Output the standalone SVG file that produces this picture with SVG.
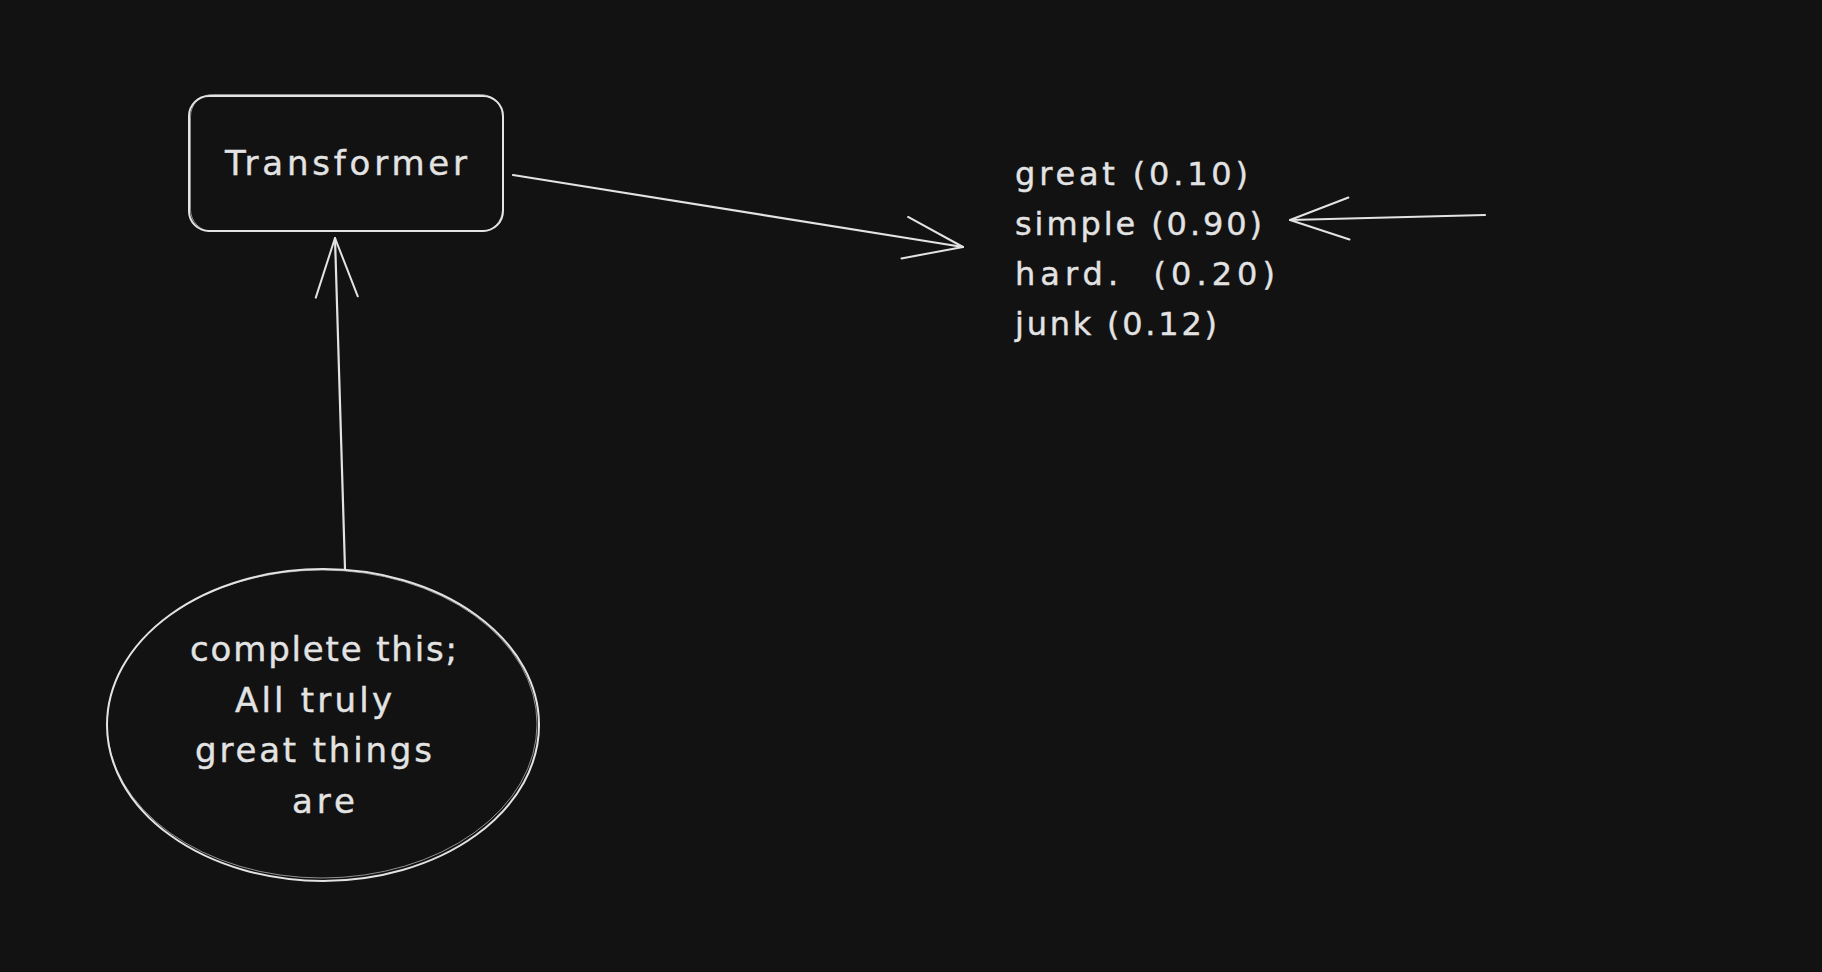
<svg xmlns="http://www.w3.org/2000/svg" width="1822" height="972" viewBox="0 0 1822 972">
<style>
.bg{fill:#121212}
.shape{fill:none;stroke:#e3e3e3;stroke-width:2;stroke-linecap:round;stroke-linejoin:round}
.sketch{fill:none;stroke:#e3e3e3;stroke-width:1;opacity:.6}
.conn{fill:none;stroke:#e3e3e3;stroke-width:2.2;stroke-linecap:round}
.label{fill:#e3e3e3;stroke:#e3e3e3;stroke-width:0.4;font-family:"DejaVu Sans","Liberation Sans",Arial,sans-serif;white-space:pre}
</style>
<defs>
<marker id="arrow" markerUnits="userSpaceOnUse" viewBox="-70 -30 80 60" markerWidth="80" markerHeight="60" refX="0" refY="0" orient="auto" overflow="visible">
<path d="M-59,-21 L0,0 L-59,21" fill="none" stroke="#e3e3e3" stroke-width="2" stroke-linecap="round" stroke-linejoin="round"/>
</marker>
</defs>
<rect class="bg" x="0" y="0" width="1822" height="972"/>

<g id="node-transformer">
<rect class="shape" x="189" y="96" width="314" height="135" rx="20"/>
<rect class="sketch" x="190.5" y="94.5" width="312" height="137" rx="22"/>
<text class="label" x="225" y="175" font-size="34" textLength="242" lengthAdjust="spacing">Transformer</text>
</g>

<g id="node-probs">
<text class="label" x="1015" y="185" font-size="32" textLength="233" lengthAdjust="spacing">great (0.10)</text>
<text class="label" x="1015" y="235" font-size="32" textLength="247" lengthAdjust="spacing">simple (0.90)</text>
<text class="label" x="1015" y="285" font-size="32" textLength="260" lengthAdjust="spacing">hard.  (0.20)</text>
<text class="label" x="1015" y="335" font-size="32" textLength="202" lengthAdjust="spacing">junk (0.12)</text>
</g>

<g id="node-prompt">
<ellipse class="shape" cx="323" cy="725" rx="216" ry="156"/>
<ellipse class="sketch" cx="322" cy="724" rx="215" ry="154"/>
<text class="label" x="190" y="661" font-size="34" textLength="267" lengthAdjust="spacing">complete this;</text>
<text class="label" x="235" y="712" font-size="34" textLength="157" lengthAdjust="spacing">All truly</text>
<text class="label" x="195" y="762" font-size="34" textLength="237" lengthAdjust="spacing">great things</text>
<text class="label" x="292" y="813" font-size="34" textLength="63" lengthAdjust="spacing">are</text>
</g>

<g id="connectors">
<path class="conn" d="M513,175 L963,247" marker-end="url(#arrow)"/>
<path class="conn" d="M1485,215 L1290,220" marker-end="url(#arrow)"/>
<path class="conn" d="M345,569 L335,238" marker-end="url(#arrow)"/>
</g>
</svg>
